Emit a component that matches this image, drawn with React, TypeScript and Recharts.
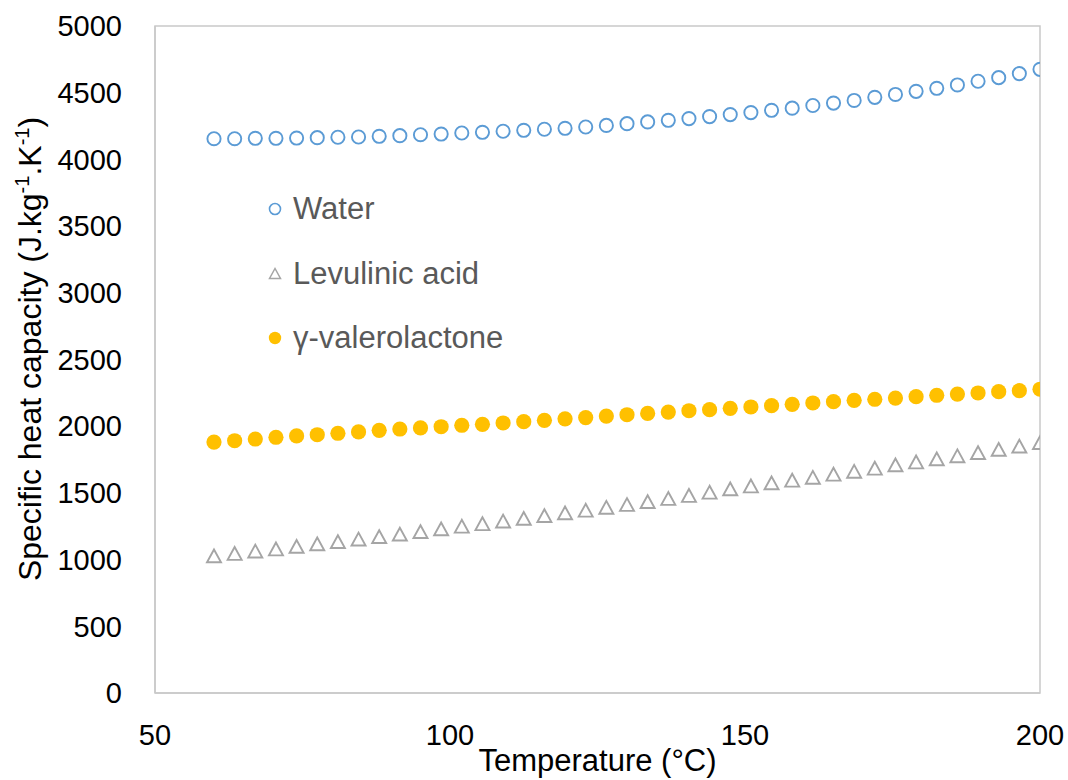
import { ScatterChart, Scatter, XAxis, YAxis, ReferenceArea, Legend, Label } from 'recharts';

const temps = [
  60, 63.5, 67, 70.5, 74, 77.5, 81, 84.5, 88, 91.5, 95, 98.5, 102, 105.5, 109, 112.5, 116, 119.5, 123, 126.5, 130,
  133.5, 137, 140.5, 144, 147.5, 151, 154.5, 158, 161.5, 165, 168.5, 172, 175.5, 179, 182.5, 186, 189.5, 193, 196.5, 200,
];

const water = [
  4155, 4155, 4158, 4158, 4160, 4163, 4166, 4168, 4173, 4178, 4185, 4190, 4198, 4203, 4211, 4218, 4226, 4233, 4243, 4255, 4268,
  4281, 4293, 4306, 4321, 4336, 4351, 4368, 4384, 4404, 4422, 4442, 4465, 4487, 4510, 4533, 4558, 4586, 4613, 4643, 4675,
];

const levulinic = [
  1025, 1043, 1061, 1077, 1096, 1115, 1132, 1151, 1169, 1188, 1207, 1227, 1247, 1266, 1286, 1306, 1327, 1347, 1367, 1389, 1410,
  1432, 1455, 1478, 1502, 1527, 1549, 1572, 1592, 1614, 1637, 1659, 1682, 1707, 1729, 1752, 1775, 1799, 1823, 1848, 1874,
];

const gvl = [
  1881, 1891, 1904, 1917, 1927, 1936, 1947, 1957, 1969, 1979, 1987, 1996, 2007, 2014, 2024, 2034, 2044, 2055, 2065, 2076, 2086,
  2096, 2106, 2116, 2124, 2134, 2144, 2154, 2164, 2174, 2184, 2194, 2202, 2211, 2221, 2232, 2241, 2249, 2259, 2266, 2277,
];

const xTicks = [50, 100, 150, 200];
const yTicks = [0, 500, 1000, 1500, 2000, 2500, 3000, 3500, 4000, 4500, 5000];

const FONT = '"Liberation Sans", Arial, Helvetica, sans-serif';
const BLUE = '#5B9BD5';
const GREY = '#A5A5A5';
const GOLD = '#FFC000';
const FRAME = '#C9C9C9';

const toPoints = (vals: number[]) => temps.map((t, i) => ({ t, v: vals[i] }));

const OpenCircle = (props: any) => {
  const { cx, cy } = props;
  return <circle cx={cx} cy={cy} r={6.6} fill="none" stroke={BLUE} strokeWidth={1.9} />;
};

const FilledCircle = (props: any) => {
  const { cx, cy } = props;
  return <circle cx={cx} cy={cy} r={7.6} fill={GOLD} />;
};

const Triangle = (props: any) => {
  const { cx, cy } = props;
  const pts = `${cx},${cy - 6.8} ${cx - 7},${cy + 6} ${cx + 7},${cy + 6}`;
  return <polygon points={pts} fill="none" stroke={GREY} strokeWidth={1.9} />;
};

const legendItems = [
  { name: 'Water', icon: <circle cx={8} cy={8} r={5.5} fill="none" stroke={BLUE} strokeWidth={1.6} /> },
  { name: 'Levulinic acid', icon: <polygon points="8,2.5 2.5,12.5 13.5,12.5" fill="none" stroke={GREY} strokeWidth={1.5} /> },
  { name: 'γ-valerolactone', icon: <circle cx={8} cy={8} r={6.2} fill={GOLD} /> },
];

function renderLegend() {
  return (
    <div style={{ fontFamily: FONT, fontSize: 31, color: '#595959' }}>
      {legendItems.map((item) => (
        <div key={item.name} style={{ display: 'flex', alignItems: 'center', height: 64.5 }}>
          <svg width={16} height={16} style={{ marginRight: 10 }}>
            {item.icon}
          </svg>
          <span>{item.name}</span>
        </div>
      ))}
    </div>
  );
}

const renderYTitle = () => (
  <text
    x={0}
    y={0}
    transform="translate(41, 349) rotate(-90)"
    textAnchor="middle"
    fontFamily={FONT}
    fontSize={32}
    fill="#000"
  >
    Specific heat capacity (J.kg
    <tspan fontSize={20} dy={-12}>-1</tspan>
    <tspan dy={12}>.K</tspan>
    <tspan fontSize={20} dy={-12}>-1</tspan>
    <tspan dy={12}>)</tspan>
  </text>
);

export default function App() {
  return (
    <div style={{ position: 'absolute', left: 0, top: 0, background: '#fff' }}>
      <ScatterChart width={1068} height={780} margin={{ top: 26, right: 28, bottom: 0, left: 0 }}>
        <XAxis
          type="number"
          dataKey="t"
          domain={[50, 200]}
          ticks={xTicks}
          height={87}
          tickLine={false}
          tickSize={0}
          tickMargin={31}
          axisLine={{ stroke: FRAME, strokeWidth: 1.5 }}
          tick={{ fill: '#000', fontSize: 29, fontFamily: FONT }}
          allowDataOverflow
        >
          <Label
            value="Temperature (°C)"
            position="insideBottom"
            offset={9}
            style={{ fill: '#000', fontSize: 31, fontFamily: FONT }}
          />
        </XAxis>
        <YAxis
          type="number"
          dataKey="v"
          domain={[0, 5000]}
          ticks={yTicks}
          width={155}
          tickLine={false}
          tickSize={0}
          tickMargin={33}
          axisLine={{ stroke: FRAME, strokeWidth: 1.5 }}
          tick={{ fill: '#000', fontSize: 29, fontFamily: FONT }}
        >
          <Label content={renderYTitle} />
        </YAxis>
        <ReferenceArea x1={50} x2={200} y1={0} y2={5000} fill="none" stroke={FRAME} strokeWidth={1.5} ifOverflow="visible" />
        <Scatter name="Water" data={toPoints(water)} shape={OpenCircle} isAnimationActive={false} />
        <Scatter name="Levulinic acid" data={toPoints(levulinic)} shape={Triangle} isAnimationActive={false} />
        <Scatter name="γ-valerolactone" data={toPoints(gvl)} shape={FilledCircle} isAnimationActive={false} />
        <Legend
          layout="vertical"
          align="center"
          verticalAlign="middle"
          content={renderLegend}
          wrapperStyle={{ position: 'absolute', left: 267, top: 177, width: 340 }}
        />
      </ScatterChart>
    </div>
  );
}
